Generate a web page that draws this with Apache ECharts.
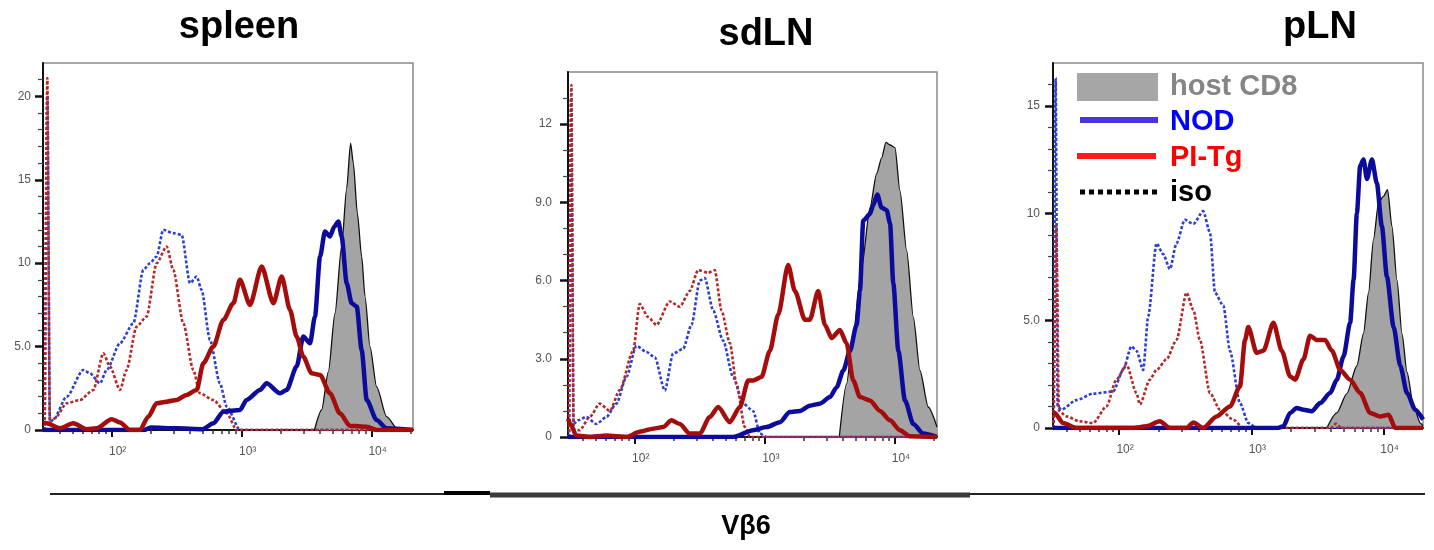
<!DOCTYPE html>
<html>
<head>
<meta charset="utf-8">
<script src="https://cdn.jsdelivr.net/npm/echarts@6/dist/echarts.min.js"></script>
<style>
  html, body { margin: 0; padding: 0; background: #fff; }
  #main { width: 1434px; height: 550px; }
</style>
</head>
<body>
<div id="main"></div>
<script>
// x = log10 of Vβ6 intensity, y = cell count (% of max)
const xMajorTicks = [2, 3, 4];
const xMinorTickValues = [40, 50, 60, 70, 80, 90, 200, 300, 400, 500, 600, 700, 800, 900,
  2000, 3000, 4000, 5000, 6000, 7000, 8000, 9000, 20000];

const spleenYMajor = [0, 5, 10, 15, 20];
const spleenYMinor = [1, 2, 3, 4, 6, 7, 8, 9, 11, 12, 13, 14, 16, 17, 18, 19, 21];
const sdlnYMajor = [0, 3, 6, 9, 12];
const sdlnYMinor = [1, 2, 4, 5, 7, 8, 10, 11, 13];
const plnYMajor = [0, 5, 10, 15];
const plnYMinor = [1, 2, 3, 4, 6, 7, 8, 9, 11, 12, 13, 14, 16];

// spleen
const spleenHost = [[3.56,0],[3.615,1.2],[3.667,3.5],[3.718,7],[3.769,11],[3.808,14.5],[3.838,17.2],[3.859,16],[3.89,13],[3.923,10.4],[3.949,8],[3.987,5],[4.038,2.6],[4.115,0.8],[4.205,0],[4.318,0]];
const spleenNod = [[1.472,0],[2.25,0],[2.3,0.15],[2.5,0.1],[2.7,0.05],[2.782,0.4],[2.859,1.1],[2.987,1.2],[3.038,1.8],[3.141,2.4],[3.192,2.8],[3.295,2.2],[3.346,2.4],[3.423,3.8],[3.474,5.6],[3.526,5.2],[3.564,6.8],[3.603,10.4],[3.641,11.9],[3.679,11.6],[3.713,12.2],[3.744,12.5],[3.769,11.6],[3.808,8.8],[3.846,7.6],[3.885,7.4],[3.923,4.8],[3.962,1.8],[4.038,0.6],[4.115,0.1],[4.318,0]];
const spleenPitg = [[1.472,0.4],[1.5,0.4],[1.603,0.1],[1.705,0.4],[1.808,0.05],[1.885,0.1],[2.0,0.65],[2.064,0.45],[2.141,0],[2.218,0],[2.282,0.8],[2.346,1.6],[2.423,1.7],[2.5,1.8],[2.577,2.1],[2.654,2.4],[2.705,4.0],[2.782,5.0],[2.859,6.6],[2.936,7.6],[2.987,9.0],[3.064,7.5],[3.154,9.8],[3.244,7.6],[3.308,9.2],[3.372,7.2],[3.423,5.6],[3.474,4.4],[3.538,3.4],[3.603,3.3],[3.679,2.2],[3.756,1.0],[3.833,0.25],[3.962,0.2],[4.038,0],[4.318,0]];
const spleenIsoNod = [[1.485,0],[1.505,20],[1.525,0.5],[1.551,0.6],[1.654,2.0],[1.782,3.6],[1.833,3.4],[1.91,2.8],[1.962,3.6],[2.064,5.2],[2.167,6.4],[2.244,9.6],[2.295,10.0],[2.346,10.4],[2.397,12.0],[2.474,11.8],[2.538,11.7],[2.603,8.8],[2.654,9.2],[2.692,8.4],[2.756,5.4],[2.833,2.8],[2.885,1.4],[2.987,0],[4.318,0]];
const spleenIsoPitg = [[1.485,0],[1.505,21.1],[1.525,0.5],[1.564,0.7],[1.654,1.6],[1.756,1.8],[1.859,2.4],[1.936,4.6],[1.987,3.8],[2.064,2.4],[2.115,3.6],[2.192,6.2],[2.269,6.8],[2.346,10.0],[2.423,11.0],[2.474,9.6],[2.551,6.4],[2.628,3.6],[2.679,2.2],[2.782,1.8],[2.885,1.0],[2.962,0],[4.318,0]];

// sdLN
const sdlnHost = [[3.572,0],[3.628,2.04],[3.679,3.96],[3.744,6.5],[3.808,8.8],[3.859,10.1],[3.897,10.7],[3.931,11.3],[3.962,11.2],[4.0,11.1],[4.038,9.45],[4.09,7.15],[4.141,4.6],[4.192,2.55],[4.256,1.15],[4.323,0.38]];
const sdlnNod = [[1.487,0],[2.756,0],[2.91,0.26],[3.013,0.38],[3.115,0.57],[3.192,0.96],[3.269,1.0],[3.346,1.2],[3.423,1.28],[3.5,1.53],[3.551,1.9],[3.603,2.55],[3.654,3.3],[3.705,4.3],[3.731,5.6],[3.756,8.3],[3.808,8.55],[3.833,8.9],[3.864,9.3],[3.897,8.8],[3.936,8.7],[3.962,8.2],[3.987,5.9],[4.026,3.3],[4.077,1.4],[4.141,0.5],[4.218,0.13],[4.323,0]];
const sdlnPitg = [[1.487,0.7],[1.505,0.5],[1.551,0.06],[1.654,0],[1.782,0.06],[1.936,0],[2.038,0.2],[2.141,0.32],[2.218,0.38],[2.282,0.64],[2.346,0.5],[2.423,0.13],[2.5,0.13],[2.577,0.77],[2.641,1.15],[2.731,0.57],[2.808,1.15],[2.872,2.17],[2.91,2.17],[2.974,2.3],[3.038,3.3],[3.103,4.7],[3.179,6.6],[3.231,5.6],[3.308,4.5],[3.346,4.5],[3.41,5.6],[3.462,4.3],[3.513,3.8],[3.577,4.1],[3.628,3.6],[3.679,2.17],[3.731,1.53],[3.808,1.4],[3.885,1.0],[3.962,0.64],[4.038,0.26],[4.115,0.03],[4.323,0]];
const sdlnIsoNod = [[1.495,0],[1.51,13],[1.53,0.5],[1.564,0.64],[1.628,0.77],[1.705,0.5],[1.782,0.77],[1.859,1.28],[1.936,2.3],[2.013,3.5],[2.09,3.26],[2.154,3.06],[2.231,1.78],[2.295,3.2],[2.372,3.38],[2.436,4.3],[2.5,6.0],[2.538,6.1],[2.603,4.85],[2.679,3.7],[2.756,2.3],[2.833,1.28],[2.91,1.0],[2.962,0.13],[3.013,0],[4.323,0]];
const sdlnIsoPitg = [[1.495,0],[1.513,13.5],[1.53,0.3],[1.577,0.26],[1.654,0.77],[1.731,1.28],[1.808,1.0],[1.885,1.8],[1.987,3.3],[2.038,5.1],[2.103,4.6],[2.167,4.3],[2.269,5.2],[2.346,5.0],[2.423,5.6],[2.487,6.4],[2.564,6.3],[2.615,6.4],[2.667,4.85],[2.731,3.6],[2.782,2.04],[2.846,0.38],[2.885,0],[4.323,0]];

// pLN
const plnHost = [[3.571,0],[3.646,0.7],[3.722,1.6],[3.798,2.9],[3.848,4.4],[3.886,6.3],[3.924,8.8],[3.962,10.5],[4.0,10.8],[4.03,11.1],[4.063,9.4],[4.101,6.9],[4.139,4.4],[4.177,2.6],[4.227,1.0],[4.278,0.23],[4.298,0.1]];
const plnNod = [[1.5,0],[3.2,0],[3.242,0.08],[3.293,0.7],[3.343,0.93],[3.394,0.85],[3.457,0.78],[3.52,1.16],[3.596,1.63],[3.646,2.25],[3.697,3.33],[3.747,4.9],[3.773,6.9],[3.798,10.0],[3.823,12.2],[3.848,12.5],[3.874,11.6],[3.912,12.5],[3.949,11.4],[3.987,9.4],[4.025,7.05],[4.076,4.7],[4.126,2.9],[4.177,1.63],[4.24,0.85],[4.298,0.39]];
const plnPitg = [[1.5,0.7],[1.513,0.7],[1.576,0.23],[1.677,0],[2.106,0],[2.207,0.08],[2.308,0.31],[2.384,0],[2.51,0],[2.561,0.26],[2.636,0],[2.737,0.54],[2.838,1.0],[2.914,1.94],[2.952,4.1],[2.977,4.7],[3.04,3.5],[3.091,3.6],[3.167,4.9],[3.23,3.6],[3.293,2.4],[3.331,2.25],[3.394,3.2],[3.444,4.3],[3.495,4.1],[3.558,4.1],[3.609,3.6],[3.672,2.7],[3.747,2.25],[3.823,1.63],[3.899,0.7],[3.975,0.54],[4.038,0.62],[4.088,0],[4.298,0]];
const plnIsoNod = [[1.505,0],[1.52,16.3],[1.535,1.0],[1.563,0.85],[1.677,1.3],[1.803,1.6],[1.955,1.7],[2.03,2.7],[2.093,3.8],[2.131,3.6],[2.182,2.7],[2.22,5.2],[2.283,8.6],[2.333,8.1],[2.384,7.4],[2.434,8.6],[2.497,9.7],[2.561,9.5],[2.636,10.1],[2.687,9.1],[2.725,6.3],[2.788,5.7],[2.838,3.6],[2.914,1.16],[2.977,0.23],[3.04,0],[4.298,0]];
const plnIsoPitg = [[1.505,0],[1.525,9.4],[1.545,0.8],[1.601,0.54],[1.702,0.31],[1.803,0.23],[1.904,1.0],[1.98,2.25],[2.056,2.95],[2.131,1.63],[2.157,1.1],[2.232,2.25],[2.283,2.7],[2.359,3.2],[2.434,4.1],[2.51,6.3],[2.561,5.5],[2.611,4.1],[2.687,1.63],[2.763,0.85],[2.864,0.39],[2.939,0],[3.6,0],[3.64,0.2],[3.68,0],[4.298,0]];

const panels = [
  { title: "spleen", titleX: 239, titleY: 28, grid: { left: 43, top: 63, width: 370, height: 367 },
    xMin: 1.472, xMax: 4.318, yMax: 22, yMajor: spleenYMajor, yMinor: spleenYMinor, labelMargin: 12,
    host: spleenHost, nod: spleenNod, pitg: spleenPitg, isoNod: spleenIsoNod, isoPitg: spleenIsoPitg },
  { title: "sdLN", titleX: 766, titleY: 35, grid: { left: 568, top: 72, width: 369, height: 365 },
    xMin: 1.487, xMax: 4.323, yMax: 14, yMajor: sdlnYMajor, yMinor: sdlnYMinor, labelMargin: 16,
    host: sdlnHost, nod: sdlnNod, pitg: sdlnPitg, isoNod: sdlnIsoNod, isoPitg: sdlnIsoPitg },
  { title: "pLN", titleX: 1320, titleY: 28, grid: { left: 1053, top: 63, width: 370, height: 365 },
    xMin: 1.5, xMax: 4.298, yMax: 17, yMajor: plnYMajor, yMinor: plnYMinor, labelMargin: 13,
    host: plnHost, nod: plnNod, pitg: plnPitg, isoNod: plnIsoNod, isoPitg: plnIsoPitg }
];

const sup = { 2: "\u00b2", 3: "\u00b3", 4: "\u2074" };
const smallFont = '"Liberation Sans Narrow", "Liberation Sans", Arial, sans-serif';
const boldFont = '"Liberation Sans", Arial, sans-serif';

let mycharts = echarts.init(document.getElementById("main"));

let grid = [], xAxis = [], yAxis = [], series = [], graphic = [];

panels.forEach(function (p, i) {
  grid.push(Object.assign({ show: true, borderColor: "#8a8a8a", borderWidth: 1.5 }, p.grid));

  // major x ticks + labels
  xAxis.push({
    gridIndex: i, type: "value", min: p.xMin, max: p.xMax, position: "bottom",
    splitLine: { show: false },
    axisLine: { lineStyle: { color: "#111", width: 2 } },
    axisTick: { customValues: xMajorTicks, length: 7, lineStyle: { color: "#111", width: 2 } },
    axisLabel: {
      customValues: xMajorTicks, margin: 16, color: "#555", fontSize: 12, fontFamily: smallFont,
      padding: [0, 0, 0, 12],
      formatter: function (v) { return "10" + sup[v]; }
    }
  });
  // minor x ticks
  xAxis.push({
    gridIndex: i, type: "value", min: p.xMin, max: p.xMax, position: "bottom",
    splitLine: { show: false },
    axisLine: { show: false },
    axisTick: { customValues: xMinorTickValues.map(Math.log10), length: 4, lineStyle: { color: "#333", width: 1.5 } },
    axisLabel: { show: false }
  });
  // major y ticks + labels
  yAxis.push({
    gridIndex: i, type: "value", min: 0, max: p.yMax, position: "left",
    splitLine: { show: false },
    axisLine: { show: true, lineStyle: { color: "#111", width: 2 } },
    axisTick: { show: true, customValues: p.yMajor, length: 8, lineStyle: { color: "#111", width: 2.5 } },
    axisLabel: {
      customValues: p.yMajor, margin: p.labelMargin, color: "#555", fontSize: 12, fontFamily: smallFont,
      formatter: function (v) { return v === 0 ? "0" : (v < 10 ? v.toFixed(1) : String(v)); }
    }
  });
  // minor y ticks
  yAxis.push({
    gridIndex: i, type: "value", min: 0, max: p.yMax, position: "left",
    splitLine: { show: false },
    axisLine: { show: false },
    axisTick: { show: true, customValues: p.yMinor, length: 5, lineStyle: { color: "#444", width: 1.2 } },
    axisLabel: { show: false }
  });

  const xi = i * 2, yi = i * 2;
  series.push({
    name: "host CD8", type: "line", xAxisIndex: xi, yAxisIndex: yi, data: p.host,
    showSymbol: false, symbol: "none", smooth: 0.25, smoothMonotone: "x", z: 1,
    lineStyle: { color: "#111", width: 1.3 },
    areaStyle: { color: "#a4a4a4", opacity: 1 }
  });
  series.push({
    name: "iso NOD", type: "line", xAxisIndex: xi, yAxisIndex: yi, data: p.isoNod,
    showSymbol: false, symbol: "none", smooth: 0.25, smoothMonotone: "x", z: 2,
    lineStyle: { color: "#2c3fcf", width: 2.6, type: [3, 2] }
  });
  series.push({
    name: "iso PI-Tg", type: "line", xAxisIndex: xi, yAxisIndex: yi, data: p.isoPitg,
    showSymbol: false, symbol: "none", smooth: 0.25, smoothMonotone: "x", z: 3,
    lineStyle: { color: "#b52828", width: 2.6, type: [3, 2] }
  });
  series.push({
    name: "NOD", type: "line", xAxisIndex: xi, yAxisIndex: yi, data: p.nod,
    showSymbol: false, symbol: "none", smooth: 0.25, smoothMonotone: "x", z: 4,
    lineStyle: { color: "#0c0c9c", width: 4.5 }
  });
  series.push({
    name: "PI-Tg", type: "line", xAxisIndex: xi, yAxisIndex: yi, data: p.pitg,
    showSymbol: false, symbol: "none", smooth: 0.25, smoothMonotone: "x", z: 5,
    lineStyle: { color: "#a50d0d", width: 4.5 }
  });

  graphic.push({
    type: "text", x: p.titleX, y: p.titleY,
    style: { text: p.title, font: "bold 38px " + boldFont, fill: "#000", align: "center", verticalAlign: "middle" }
  });
});

// legend drawn in the pLN panel
const legendFont = "bold 29px " + boldFont;
graphic.push(
  { type: "rect", shape: { x: 1077, y: 73, width: 81, height: 28 }, style: { fill: "#a6a6a6" } },
  { type: "text", x: 1170, y: 87, style: { text: "host CD8", font: legendFont, fill: "#858585", verticalAlign: "middle" } },
  { type: "line", shape: { x1: 1080, y1: 120, x2: 1158, y2: 120 }, style: { stroke: "#4a34e0", lineWidth: 6 } },
  { type: "text", x: 1170, y: 122, style: { text: "NOD", font: legendFont, fill: "#0000ff", verticalAlign: "middle" } },
  { type: "line", shape: { x1: 1077, y1: 156, x2: 1156, y2: 156 }, style: { stroke: "#ff1a1a", lineWidth: 6 } },
  { type: "text", x: 1170, y: 158, style: { text: "PI-Tg", font: legendFont, fill: "#ff0000", verticalAlign: "middle" } },
  { type: "line", shape: { x1: 1080, y1: 192, x2: 1158, y2: 192 }, style: { stroke: "#000", lineWidth: 5, lineDash: [5, 4] } },
  { type: "text", x: 1170, y: 193, style: { text: "iso", font: legendFont, fill: "#000", verticalAlign: "middle" } }
);

// shared x-axis title line
graphic.push(
  { type: "line", shape: { x1: 50, y1: 494, x2: 1425, y2: 494 }, style: { stroke: "#222", lineWidth: 2 } },
  { type: "line", shape: { x1: 444, y1: 493, x2: 490, y2: 493 }, style: { stroke: "#000", lineWidth: 4 } },
  { type: "line", shape: { x1: 490, y1: 495, x2: 970, y2: 495 }, style: { stroke: "#3a3a3a", lineWidth: 5 } },
  { type: "text", x: 746, y: 527, style: { text: "V\u03b26", font: "bold 27px " + boldFont, fill: "#000", align: "center", verticalAlign: "middle" } }
);

let option = {
  animation: false,
  backgroundColor: "#fff",
  grid: grid,
  xAxis: xAxis,
  yAxis: yAxis,
  series: series,
  graphic: graphic
};
mycharts.setOption(option);
</script>
</body>
</html>
